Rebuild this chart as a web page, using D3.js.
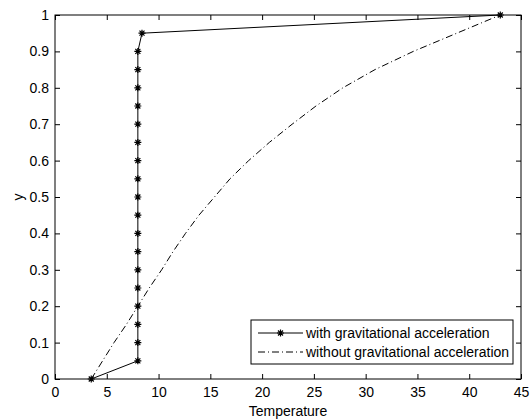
<!DOCTYPE html>
<html>
<head>
<meta charset="utf-8">
<script src="https://cdn.jsdelivr.net/npm/d3@7"></script>
<style>
  body { margin: 0; background: #fff; }
  svg text { font-family: "Liberation Sans", Arial, sans-serif; font-size: 14px; fill: #000; }
  .line { fill: none; stroke: #000; stroke-width: 1; }
</style>
</head>
<body>
<svg id="chart" width="531" height="419"></svg>
<script>
var margin = {top: 15, right: 10, bottom: 40, left: 55};
var width = 531 - margin.left - margin.right,
    height = 419 - margin.top - margin.bottom;

// with gravitational acceleration
var withTemp = [3.5, 8, 8, 8, 8, 8, 8, 8, 8, 8, 8, 8, 8, 8, 8, 8, 8, 8, 8, 8.4, 43];
var withY = [0, 0.05, 0.1, 0.15, 0.2, 0.25, 0.3, 0.35, 0.4, 0.45, 0.5, 0.55, 0.6, 0.65, 0.7, 0.75, 0.8, 0.85, 0.9, 0.95, 1];

// without gravitational acceleration
var withoutTemp = [3.5, 4.6, 5.7, 6.9, 8.0, 9.1, 10.3, 11.4, 12.6, 13.9, 15.4, 16.9, 18.7, 20.7, 22.9, 25.2, 27.8, 30.9, 34.6, 38.8, 43];
var withoutY = [0, 0.05, 0.1, 0.15, 0.2, 0.25, 0.3, 0.35, 0.4, 0.45, 0.5, 0.55, 0.6, 0.65, 0.7, 0.75, 0.8, 0.85, 0.9, 0.95, 1];

var xTicks = [0, 5, 10, 15, 20, 25, 30, 35, 40, 45];
var yTicks = [0, 0.1, 0.2, 0.3, 0.4, 0.5, 0.6, 0.7, 0.8, 0.9, 1];

var legendLabels = ["with gravitational acceleration", "without gravitational acceleration"];

var x = d3.scaleLinear().range([0, width]).domain([0, 45]);
var y = d3.scaleLinear().range([height, 0]).domain([0, 1]);

var svg = d3.select("#chart")
  .append("g")
    .attr("transform", "translate(" + margin.left + "," + margin.top + ")");

//Axes with inward ticks, mirrored on top and right
function styleAxis(g){
  g.select(".domain").remove();
  g.selectAll(".tick line").attr("stroke", "#000");
  g.selectAll("text").style("font-size", "14px").attr("fill", "#000");
}

svg.append("g")
  .attr("transform", "translate(0," + height + ")")
  .call(d3.axisBottom(x).tickValues(xTicks).tickSize(-5).tickPadding(8).tickFormat(d3.format("d")))
  .call(styleAxis);

svg.append("g")
  .call(d3.axisTop(x).tickValues(xTicks).tickSize(-5).tickFormat(""))
  .call(styleAxis);

svg.append("g")
  .call(d3.axisLeft(y).tickValues(yTicks).tickSize(-5).tickPadding(6).tickFormat(function(d){ return d3.format("")(+d.toFixed(1)); }))
  .call(styleAxis);

svg.append("g")
  .attr("transform", "translate(" + width + ",0)")
  .call(d3.axisRight(y).tickValues(yTicks).tickSize(-5).tickFormat(""))
  .call(styleAxis);

//Plot box
svg.append("rect")
  .attr("width", width)
  .attr("height", height)
  .style("fill", "none")
  .style("stroke", "#000")
  .style("stroke-width", 1);

//Axis labels
svg.append("text")
  .attr("x", width / 2)
  .attr("y", height + 37)
  .attr("text-anchor", "middle")
  .text("Temperature");

svg.append("text")
  .attr("transform", "rotate(-90)")
  .attr("x", -height / 2)
  .attr("y", -32)
  .attr("text-anchor", "middle")
  .text("y");

//Lines
var withData = withTemp.map(function(t, i){ return {t: t, y: withY[i]}; });
var withoutData = withoutTemp.map(function(t, i){ return {t: t, y: withoutY[i]}; });

var line = d3.line()
  .x(function(d) { return x(d.t); })
  .y(function(d) { return y(d.y); });

svg.append("path")
  .data([withoutData])
  .attr("class", "line")
  .style("stroke-dasharray", "7,3,1,3")
  .attr("d", line);

svg.append("path")
  .data([withData])
  .attr("class", "line")
  .attr("d", line);

//Asterisk markers
var star = "M-3.5,0H3.5M0,-3.5V3.5M-2.5,-2.5L2.5,2.5M-2.5,2.5L2.5,-2.5";

svg.selectAll(".star")
  .data(withData)
  .enter().append("path")
  .attr("class", "star")
  .attr("transform", function(d){ return "translate(" + x(d.t) + "," + y(d.y) + ")"; })
  .attr("d", star)
  .style("stroke", "#000")
  .style("stroke-width", 1.2)
  .style("fill", "none");

//Legend
var legend = svg.append("g")
  .attr("transform", "translate(" + (251 - margin.left) + "," + (320 - margin.top) + ")");

legend.append("rect")
  .attr("width", 262)
  .attr("height", 44)
  .style("fill", "#fff")
  .style("stroke", "#000")
  .style("stroke-width", 1);

legendLabels.forEach(function(label, i){
  var ly = 13 + i * 19;
  legend.append("line")
    .attr("x1", 7).attr("x2", 52)
    .attr("y1", ly).attr("y2", ly)
    .style("stroke", "#000")
    .style("stroke-width", 1)
    .style("stroke-dasharray", i === 0 ? null : "7,3,1,3");
  if(i === 0){
    legend.append("path")
      .attr("transform", "translate(29.5," + ly + ")")
      .attr("d", star)
      .style("stroke", "#000")
      .style("stroke-width", 1.2);
  }
  legend.append("text")
    .attr("x", 55)
    .attr("y", ly)
    .attr("dy", "0.35em")
    .text(label);
});
</script>
</body>
</html>
